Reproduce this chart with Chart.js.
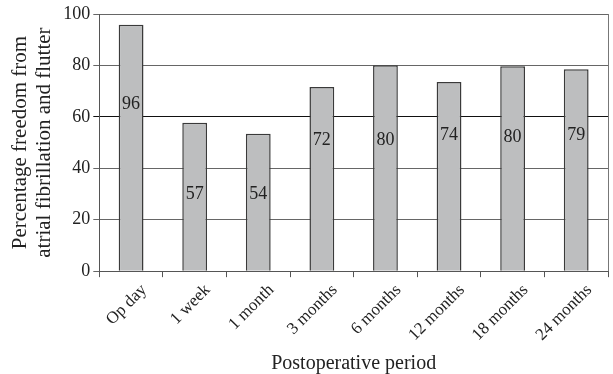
<!DOCTYPE html>
<html>
<head>
<meta charset="utf-8">
<script src="https://cdn.jsdelivr.net/npm/chart.js@4/dist/chart.umd.min.js"></script>
<style>
html,body{margin:0;padding:0;background:#fff;}
#wrap{width:613px;height:374px;}
</style>
</head>
<body>
<div id="wrap"><canvas id="c"></canvas></div>
<script>
const categories = ["Op day","1 week","1 month","3 months","6 months","12 months","18 months","24 months"];
const barValues = [95.8, 57.7, 53.4, 71.6, 80.1, 73.6, 79.7, 78.5];
const barLabels = ["96","57","54","72","80","74","80","79"];
const labelAt = [65, 30, 30, 51, 51, 53, 52, 53];
const yTicks = [0, 20, 40, 60, 80, 100];

const FONT = "'Liberation Serif', serif";

const barText = {
  id: 'barText',
  afterDatasetsDraw(chart) {
    const ctx = chart.ctx;
    const meta = chart.getDatasetMeta(0);
    const y = chart.scales.y;
    ctx.save();
    ctx.font = "18px " + FONT;
    ctx.fillStyle = "#222";
    ctx.textAlign = "center";
    ctx.textBaseline = "middle";
    meta.data.forEach((bar, i) => {
      ctx.fillText(barLabels[i], bar.x, y.getPixelForValue(labelAt[i]));
    });
    ctx.restore();
  }
};

const frame = {
  id: 'frame',
  beforeDatasetsDraw(chart) {
    const a = chart.chartArea;
    const ctx = chart.ctx;
    ctx.save();
    ctx.strokeStyle = "#777";
    ctx.lineWidth = 1;
    ctx.beginPath();
    ctx.moveTo(a.right + 0.5, a.top);
    ctx.lineTo(a.right + 0.5, a.bottom);
    ctx.stroke();
    ctx.restore();
  }
};

new Chart(document.getElementById('c'), {
  type: 'bar',
  data: {
    labels: categories,
    datasets: [{
      data: barValues,
      backgroundColor: "#bdbebf",
      borderColor: "#3a3a3a",
      borderWidth: 1.5,
      barPercentage: 0.39,
      categoryPercentage: 1.0
    }]
  },
  options: {
    responsive: true,
    maintainAspectRatio: false,
    animation: false,
    layout: { padding: { top: 14, right: 5, left: 4, bottom: -2 } },
    plugins: { legend: { display: false }, tooltip: { enabled: false } },
    scales: {
      x: {
        offset: true,
        grid: { display: true, drawOnChartArea: false, drawTicks: true, tickLength: 6, color: "#555", offset: true },
        border: { display: true, color: "#555", width: 1 },
        ticks: { color: "#222", font: { family: FONT, size: 17 }, minRotation: 45, maxRotation: 45, padding: 3, labelOffset: 13 },
        title: { display: true, text: "Postoperative period", color: "#222", font: { family: FONT, size: 20 }, padding: { top: 4, bottom: 0 } }
      },
      y: {
        min: 0, max: 100,
        afterBuildTicks(axis) { axis.ticks = yTicks.map(v => ({ value: v })); },
        grid: {
          color: (c) => (c.tick && c.tick.value === 60 ? "#111" : "#666"),
          lineWidth: 1,
          tickLength: 6
        },
        border: { display: true, color: "#555", width: 1 },
        ticks: { color: "#222", font: { family: FONT, size: 18 }, padding: 3 },
        title: { display: true, text: ["Percentage freedom from", "atrial fibrillation and flutter"], color: "#222", font: { family: FONT, size: 21, lineHeight: 1.15 }, padding: { bottom: 4 } }
      }
    }
  },
  plugins: [frame, barText]
});
</script>
</body>
</html>
